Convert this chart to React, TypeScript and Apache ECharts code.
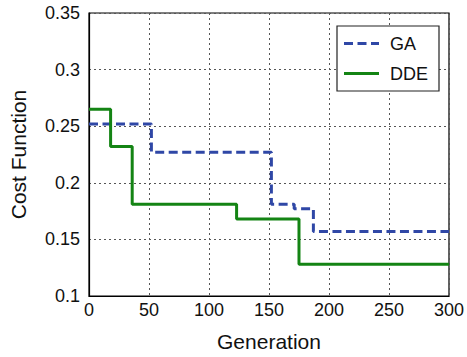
import React, { useEffect, useRef } from "react";
import * as echarts from "echarts";

const gaX = [0, 52, 152, 171, 187, 300];
const gaY = [0.252, 0.227, 0.181, 0.177, 0.157, 0.157];
const ddeX = [0, 18, 36, 123, 175, 300];
const ddeY = [0.265, 0.232, 0.181, 0.168, 0.128, 0.128];
const seriesNames = ["GA", "DDE"];

export default function App() {
  const ref = useRef<HTMLDivElement>(null);
  useEffect(() => {
    const chart = echarts.init(ref.current!, null, { renderer: "svg" });
    const font = "Liberation Sans, Arial, sans-serif";
    const blue = "#2f47a6";
    const green = "#148414";
    const split = { show: true, lineStyle: { color: "#555", type: [2, 3] as any, width: 1 } };
    chart.setOption({
      animation: false,
      textStyle: { fontFamily: font },
      grid: { left: 88, right: 18, top: 13, bottom: 59, show: true, borderColor: "#000", borderWidth: 1.2 },
      graphic: [
        {
          type: "rect",
          shape: { x: 337, y: 26, width: 102, height: 65 },
          style: { fill: "#fff", stroke: "#222", lineWidth: 1.2 },
          z: 100,
        },
        {
          type: "line",
          shape: { x1: 344, y1: 43.5, x2: 379, y2: 43.5 },
          style: { stroke: blue, lineWidth: 3, lineDash: [9, 4.5] },
          z: 101,
        },
        {
          type: "line",
          shape: { x1: 344, y1: 73.5, x2: 379, y2: 73.5 },
          style: { stroke: green, lineWidth: 3 },
          z: 101,
        },
        {
          type: "text",
          x: 390,
          y: 43.5,
          style: { text: seriesNames[0], fontSize: 18, fontFamily: font, fill: "#111", verticalAlign: "middle" },
          z: 101,
        },
        {
          type: "text",
          x: 390,
          y: 73.5,
          style: { text: seriesNames[1], fontSize: 18, fontFamily: font, fill: "#111", verticalAlign: "middle" },
          z: 101,
        },
      ],
      xAxis: {
        type: "value",
        min: 0,
        max: 300,
        interval: 50,
        name: "Generation",
        nameLocation: "middle",
        nameGap: 35,
        nameTextStyle: { fontSize: 21, color: "#111", fontFamily: font },
        axisLine: { show: true, lineStyle: { color: "#000", width: 1.2 } },
        axisTick: { show: false },
        axisLabel: { fontSize: 18, color: "#111", margin: 5, fontFamily: font },
        splitLine: split,
      },
      yAxis: {
        type: "value",
        min: 0.1,
        max: 0.35,
        interval: 0.05,
        name: "Cost Function",
        nameLocation: "middle",
        nameGap: 60,
        nameTextStyle: { fontSize: 21, color: "#111", fontFamily: font },
        axisLine: { show: true, lineStyle: { color: "#000", width: 1.2 } },
        axisTick: { show: false },
        axisLabel: { fontSize: 18, color: "#111", margin: 9, fontFamily: font },
        splitLine: split,
      },
      series: [
        {
          name: seriesNames[0],
          type: "line",
          step: "end",
          symbol: "none",
          data: gaX.map((x, i) => [x, gaY[i]]),
          lineStyle: { color: blue, width: 3, type: [9, 4.5] as any },
          itemStyle: { color: blue },
        },
        {
          name: seriesNames[1],
          type: "line",
          step: "end",
          symbol: "none",
          data: ddeX.map((x, i) => [x, ddeY[i]]),
          lineStyle: { color: green, width: 3 },
          itemStyle: { color: green },
        },
      ],
    });
    return () => chart.dispose();
  }, []);
  return <div ref={ref} style={{ width: 467, height: 357, position: "absolute", left: 0, top: 0, background: "#fff" }} />;
}
